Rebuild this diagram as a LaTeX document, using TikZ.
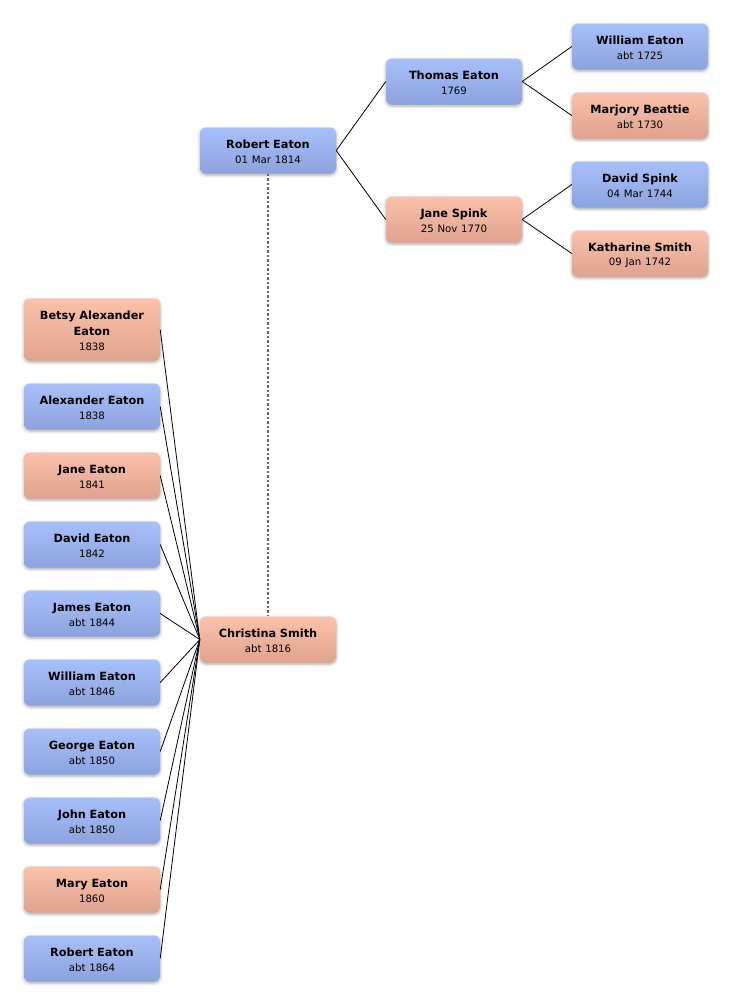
\documentclass[tikz,border=0pt]{standalone}
\usepackage{fontspec}
\setmainfont{DejaVu Sans}
\usetikzlibrary{shadows.blur}
\definecolor{btop}{HTML}{A8C0FA}
\definecolor{bbot}{HTML}{8CA2DD}
\definecolor{ptop}{HTML}{FBC1AA}
\definecolor{pbot}{HTML}{DFA390}
\tikzset{
 person/.style={rounded corners=6pt, minimum width=136pt, minimum height=46pt, text width=132pt, align=center, inner sep=0pt,
   font=\fontsize{11.3}{14.5}\selectfont,
   blur shadow={shadow xshift=0pt, shadow yshift=-1.5pt, shadow blur radius=3pt, shadow opacity=35}},
 male/.style={person, top color=btop, bottom color=bbot},
 female/.style={person, top color=ptop, bottom color=pbot},
 link/.style={draw=black, line width=0.8pt},
 spouse/.style={draw=black!60, dash pattern=on 2.5pt off 2pt, line width=1.3pt}
}
\newcommand{\pn}[2]{\rule{0pt}{11.6pt}{\bfseries #1}\\{\fontsize{10.2}{13}\selectfont #2}}
\begin{document}
\begin{tikzpicture}[x=1pt,y=-1pt]
\useasboundingbox (0,0) rectangle (732,1005);
\node[male] (robert) at (268,150.5) {\pn{Robert Eaton}{01 Mar 1814}};
\node[male] (thomas) at (454,81.5) {\pn{Thomas Eaton}{1769}};
\node[female] (janes) at (454,219.5) {\pn{Jane Spink}{25 Nov 1770}};
\node[male] (william) at (640,46.5) {\pn{William Eaton}{abt 1725}};
\node[female] (marjory) at (640,115.5) {\pn{Marjory Beattie}{abt 1730}};
\node[male] (david) at (640,184.5) {\pn{David Spink}{04 Mar 1744}};
\node[female] (katharine) at (640,253.5) {\pn{Katharine Smith}{09 Jan 1742}};
\node[female] (christina) at (268,639.5) {\pn{Christina Smith}{abt 1816}};
\node[female, minimum height=62pt] (c1) at (92,329.5) {\rule{0pt}{11.6pt}{\bfseries Betsy Alexander\\[1.5pt]Eaton}\\{\fontsize{10.2}{13}\selectfont 1838}};
\node[male] (c2) at (92,406.5) {\pn{Alexander Eaton}{1838}};
\node[female] (c3) at (92,475.5) {\pn{Jane Eaton}{1841}};
\node[male] (c4) at (92,544.5) {\pn{David Eaton}{1842}};
\node[male] (c5) at (92,613.5) {\pn{James Eaton}{abt 1844}};
\node[male] (c6) at (92,682.5) {\pn{William Eaton}{abt 1846}};
\node[male] (c7) at (92,751.5) {\pn{George Eaton}{abt 1850}};
\node[male] (c8) at (92,820.5) {\pn{John Eaton}{abt 1850}};
\node[female] (c9) at (92,889.5) {\pn{Mary Eaton}{1860}};
\node[male] (c10) at (92,958.5) {\pn{Robert Eaton}{abt 1864}};
\draw[link] (robert.east) -- (thomas.west);
\draw[link] (robert.east) -- (janes.west);
\draw[link] (thomas.east) -- (william.west);
\draw[link] (thomas.east) -- (marjory.west);
\draw[link] (janes.east) -- (david.west);
\draw[link] (janes.east) -- (katharine.west);
\draw[spouse] (robert.south) -- (christina.north);
\foreach \c in {c1,c2,c3,c4,c5,c6,c7,c8,c9,c10}
  \draw[link] (\c.east) -- (christina.west);
\end{tikzpicture}
\end{document}
